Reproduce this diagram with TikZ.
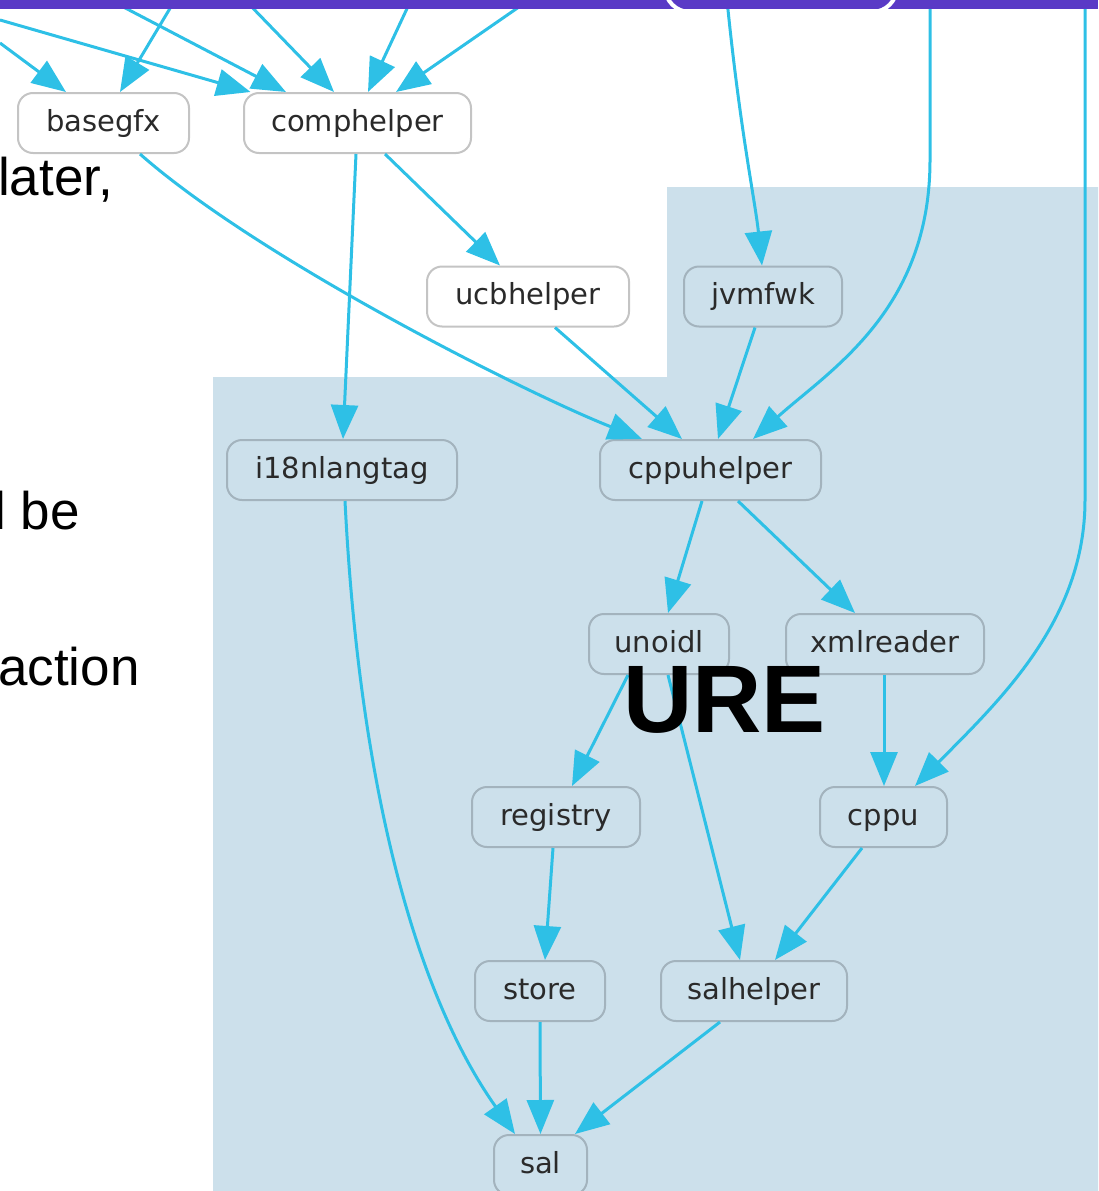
\documentclass[tikz,border=0pt]{standalone}
\usepackage{fontspec}
\setmainfont{Liberation Sans}
\newfontfamily\graphfont{DejaVu Sans}
\usetikzlibrary{arrows.meta}

\definecolor{barpurple}{HTML}{5A3AC6}
\definecolor{clusterbg}{HTML}{CCE0EB}
\definecolor{edgecyan}{HTML}{2EC0E6}
\definecolor{boxline}{HTML}{A3B3BD}
\definecolor{boxlinew}{HTML}{C4C4C4}
\definecolor{labeltext}{HTML}{2A2A2A}

\begin{document}
\begin{tikzpicture}[x=1pt,y=-1pt,
  pkg/.style={draw=boxline, line width=2pt, rounded corners=15pt, fill=clusterbg,
    minimum height=60pt, inner sep=0pt, text=labeltext,
    font=\graphfont\fontsize{29}{34}\selectfont, text height=22pt, text depth=6pt},
  outerpkg/.style={pkg, fill=white, draw=boxlinew},
  dep/.style={draw=edgecyan, line width=3pt, -{Triangle[length=34pt,width=27pt]}},
  slidetext/.style={font=\fontsize{53}{60}\selectfont, anchor=base west, inner sep=0pt},
]
\useasboundingbox (0,0) rectangle (1098,1191);
\clip (0,0) rectangle (1098,1191);

% URE cluster background
\fill[clusterbg] (213,1200) -- (213,377) -- (667,377) -- (667,187) -- (1110,187) -- (1110,1200) -- cycle;

% packages
\node[outerpkg, minimum width=171pt] (basegfx)    at (103.5,123) {basegfx};
\node[outerpkg, minimum width=227pt] (comphelper) at (357.5,123) {comphelper};
\node[outerpkg, minimum width=202pt] (ucbhelper)  at (528,296.5) {ucbhelper};
\node[pkg, minimum width=158pt] (jvmfwk)      at (763,296.5) {jvmfwk};
\node[pkg, minimum width=230pt] (i18nlangtag) at (342,470) {i18nlangtag};
\node[pkg, minimum width=221pt] (cppuhelper)  at (710.5,470) {cppuhelper};
\node[pkg, minimum width=140pt] (unoidl)      at (659,644) {unoidl};
\node[pkg, minimum width=198pt] (xmlreader)   at (885,644) {xmlreader};
\node[pkg, minimum width=168pt] (registry)    at (556,817) {registry};
\node[pkg, minimum width=127pt] (cppu)        at (883.5,817) {cppu};
\node[pkg, minimum width=130pt] (store)       at (540,991) {store};
\node[pkg, minimum width=186pt] (salhelper)   at (754,991) {salhelper};
\node[pkg, minimum width=93pt]  (sal)         at (540.5,1165) {sal};

% dependencies coming in from above
\coordinate (inA) at (0,43);
\coordinate (inB) at (175,0);
\coordinate (inC) at (0,20);
\coordinate (inD) at (110,0);
\coordinate (inE) at (245,0);
\coordinate (inF) at (411,0);
\coordinate (inG) at (529,0);
\coordinate (inH) at (727,0);
\coordinate (inI) at (930,0);
\coordinate (inJ) at (1085,0);

\draw[dep] (inA) -- ([xshift=-37.5pt]basegfx.north);
\draw[dep] (inB) -- ([xshift=16.5pt]basegfx.north);
\draw[dep] (inC) -- ([xshift=-107pt]comphelper.north);
\draw[dep] (inD) -- ([xshift=-71.5pt]comphelper.north);
\draw[dep] (inE) -- ([xshift=-23.5pt]comphelper.north);
\draw[dep] (inF) -- ([xshift=10.5pt]comphelper.north);
\draw[dep] (inG) -- ([xshift=38.5pt]comphelper.north);
\draw[dep] (inH) .. controls (740,130) and (755,200) .. ([xshift=-1pt]jvmfwk.north);
\draw[dep] (inI) -- (930,160) .. controls (930,310) and (830,370) .. ([xshift=42.5pt]cppuhelper.north);
\draw[dep] (inJ) -- (1085,500) .. controls (1085,620) and (1000,700) .. ([xshift=31.5pt]cppu.north);

% dependencies between packages
\draw[dep] ([xshift=36.5pt]basegfx.south) .. controls (260,260) and (530,395) .. ([xshift=-68.5pt]cppuhelper.north);
\draw[dep] ([xshift=-1.5pt]comphelper.south) -- ([xshift=1pt]i18nlangtag.north);
\draw[dep] ([xshift=27.5pt]comphelper.south) -- ([xshift=-28pt]ucbhelper.north);
\draw[dep] ([xshift=27pt]ucbhelper.south) -- ([xshift=-28.5pt]cppuhelper.north);
\draw[dep] ([xshift=-8pt]jvmfwk.south) -- ([xshift=7.5pt]cppuhelper.north);
\draw[dep] ([xshift=-8.5pt]cppuhelper.south) -- ([xshift=9pt]unoidl.north);
\draw[dep] ([xshift=27.5pt]cppuhelper.south) -- ([xshift=-30pt]xmlreader.north);
\draw[dep] ([xshift=-31pt]unoidl.south) -- ([xshift=16pt]registry.north);
\draw[dep] ([xshift=9pt]unoidl.south) -- ([xshift=-14pt]salhelper.north);
\draw[dep] ([xshift=-1pt]xmlreader.south) -- ([xshift=0.5pt]cppu.north);
\draw[dep] ([xshift=-21.5pt]cppu.south) -- ([xshift=21pt]salhelper.north);
\draw[dep] ([xshift=-3pt]registry.south) -- ([xshift=5pt]store.north);
\draw[dep] (store.south) -- (sal.north);
\draw[dep] ([xshift=-34pt]salhelper.south) -- ([xshift=34.5pt]sal.north);
\draw[dep] ([xshift=3pt]i18nlangtag.south) .. controls (360,800) and (420,1000) .. ([xshift=-25.5pt]sal.north);

% header bar with the outlined tab
\fill[barpurple] (0,0) rectangle (1098,9);
\draw[white, line width=4pt, rounded corners=25pt] (665,-40) -- (665,12) -- (690,12);
\draw[white, line width=4pt, rounded corners=25pt] (897,-40) -- (897,12) -- (872,12);

% slide text
\node[slidetext] (later)  at (-2,195) {later,};
\node[slidetext] (llbe)   at (-6,529) {l be};
\node[slidetext] (action) at (-2,685) {action};
\node[font=\bfseries\fontsize{96}{100}\selectfont, anchor=base west, inner sep=0pt] (ure) at (623,732) {URE};
\end{tikzpicture}
\end{document}
